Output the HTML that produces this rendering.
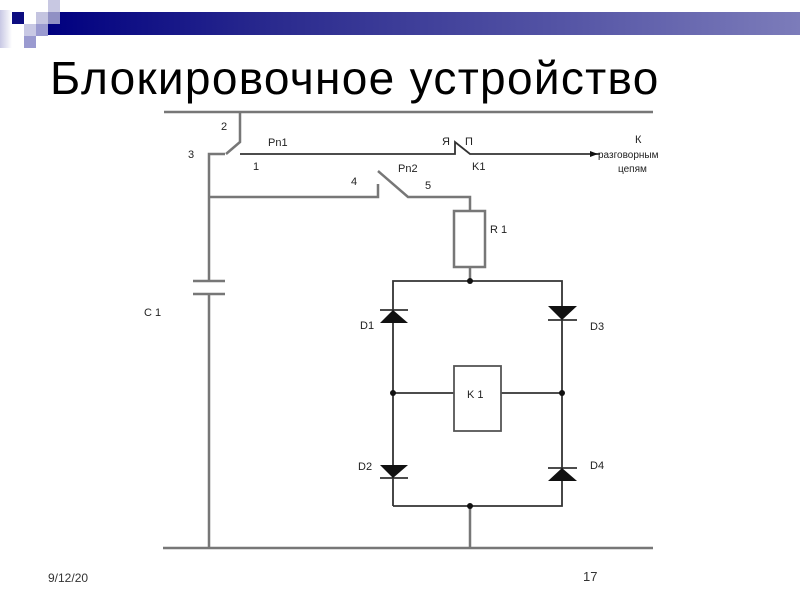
<!DOCTYPE html>
<html><head><meta charset="utf-8"><style>
body{margin:0;width:800px;height:600px;background:#fff;position:relative;overflow:hidden;font-family:"Liberation Sans",sans-serif}
.s{position:absolute}
</style></head><body>
<div class="s" style="left:0;top:10px;width:12px;height:38px;background:linear-gradient(90deg,#c8c8e4,#fff)"></div>
<div class="s" style="left:12px;top:12px;width:12px;height:12px;background:#0c0c80"></div>
<div class="s" style="left:36px;top:12px;width:12px;height:12px;background:#c4c4e0"></div>
<div class="s" style="left:48px;top:0;width:12px;height:12px;background:#c8c8e2"></div>
<div class="s" style="left:48px;top:12px;width:752px;height:23px;background:linear-gradient(90deg,#000080,#2a2a8e 30%,#5656a6 70%,#7c7cba)"></div>
<div class="s" style="left:48px;top:12px;width:12px;height:12px;background:#9090c4"></div>
<div class="s" style="left:24px;top:24px;width:12px;height:12px;background:#c8c8e4"></div>
<div class="s" style="left:36px;top:24px;width:12px;height:12px;background:#9a9ad0"></div>
<div class="s" style="left:24px;top:36px;width:12px;height:12px;background:#9a9ad0"></div>
<div class="s" style="left:50px;top:51px;font-size:46px;letter-spacing:1.3px;color:#000;white-space:nowrap">Блокировочное устройство</div>
<div class="s" style="left:48px;top:571px;font-size:12px;color:#333">9/12/20</div>
<div class="s" style="left:583px;top:569px;font-size:13px;color:#333">17</div>
<svg class="s" style="left:0;top:0" width="800" height="600" font-family="Liberation Sans" font-size="11" fill="#222">
<g stroke="#777" stroke-width="2.5" fill="none">
<line x1="164" y1="112" x2="653" y2="112"/>
<line x1="163" y1="548" x2="653" y2="548"/>
<polyline points="240,112 240,142 226,154"/>
<polyline points="209,548 209,294"/>
<line x1="193" y1="294" x2="225" y2="294"/>
<line x1="193" y1="281" x2="225" y2="281"/>
<polyline points="209,281 209,154 225,154"/>
<polyline points="209,197 378,197 378,184"/>
<polyline points="378,171 408,197 470,197 470,211"/>
<rect x="454" y="211" width="31" height="56"/>
<line x1="470" y1="267" x2="470" y2="281"/>
<line x1="470" y1="506" x2="470" y2="548"/>
</g>
<g stroke="#333" stroke-width="1.8" fill="none">
<polyline points="240,154 455,154 455,142 470,154 600,154"/>
<polyline points="393,506 393,281 562,281 562,506 393,506"/>
<line x1="393" y1="393" x2="454" y2="393"/>
<line x1="501" y1="393" x2="562" y2="393"/>
<rect x="454" y="366" width="47" height="65" stroke="#555"/>
<line x1="380" y1="310" x2="408" y2="310"/>
<line x1="548" y1="320" x2="577" y2="320"/>
<line x1="380" y1="478" x2="408" y2="478"/>
<line x1="548" y1="468" x2="577" y2="468"/>
</g>
<g fill="#111">
<polygon points="393,310 380,323 408,323"/>
<polygon points="548,306 577,306 562,320"/>
<polygon points="380,465 408,465 393,478"/>
<polygon points="562,468 548,481 577,481"/>
<polygon points="590,151 590,157 598,154"/>
<circle cx="470" cy="281" r="3"/><circle cx="470" cy="506" r="3"/>
<circle cx="393" cy="393" r="3"/><circle cx="562" cy="393" r="3"/>
</g>
<text x="221" y="130">2</text><text x="188" y="158">3</text>
<text x="268" y="146">Pn1</text><text x="253" y="170">1</text>
<text x="442" y="145">Я</text><text x="465" y="145">П</text>
<text x="472" y="170">K1</text>
<text x="398" y="172">Pn2</text><text x="351" y="185">4</text><text x="425" y="189">5</text>
<text x="490" y="233">R 1</text>
<text x="635" y="143">К</text>
<text x="598" y="158" font-size="10">разговорным</text>
<text x="618" y="172" font-size="10">цепям</text>
<text x="144" y="316">C 1</text>
<text x="360" y="329">D1</text><text x="590" y="330">D3</text>
<text x="467" y="398">K 1</text>
<text x="358" y="470">D2</text><text x="590" y="469">D4</text>
</svg>
</body></html>
